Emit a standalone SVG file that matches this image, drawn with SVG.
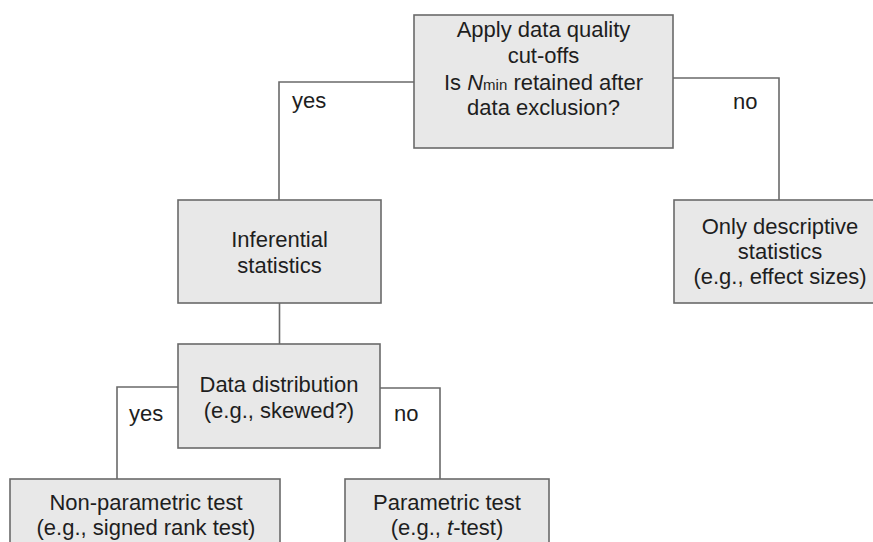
<svg xmlns="http://www.w3.org/2000/svg" width="873" height="542" viewBox="0 0 873 542">
<style>
.box{fill:#e8e8e8;stroke:#6a6a6a;stroke-width:1.6}
.t{font-family:"Liberation Sans",Arial,sans-serif;font-size:22px;fill:#1e1e1e;text-anchor:middle}
.l{font-family:"Liberation Sans",Arial,sans-serif;font-size:22px;fill:#1e1e1e}
.c{fill:none;stroke:#6a6a6a;stroke-width:1.6}
</style>
<rect width="873" height="542" fill="#ffffff"/>
<g id="connectors">
<polyline class="c" points="414,82 279,82 279,200"/>
<polyline class="c" points="673,78 779,78 779,200"/>
<line class="c" x1="279.5" y1="303" x2="279.5" y2="344"/>
<polyline class="c" points="178,387 117,387 117,479"/>
<polyline class="c" points="380,388 440,388 440,479"/>
<text class="l" x="292" y="108">yes</text>
<text class="l" x="733" y="109">no</text>
<text class="l" x="129" y="421">yes</text>
<text class="l" x="394" y="421">no</text>
</g>
<g id="n-cutoffs">
<rect class="box" x="414" y="15" width="259" height="133"/>
<text class="t" x="543.5" y="37">Apply data quality</text>
<text class="t" x="543.5" y="63">cut-offs</text>
<text class="t" x="543.5" y="90">Is <tspan font-style="italic">N</tspan><tspan font-size="15">min</tspan> retained after</text>
<text class="t" x="543.5" y="115">data exclusion?</text>
</g>
<g id="n-inferential">
<rect class="box" x="178" y="200" width="203" height="103"/>
<text class="t" x="279.5" y="247">Inferential</text>
<text class="t" x="279.5" y="273">statistics</text>
</g>
<g id="n-descriptive">
<rect class="box" x="674" y="200" width="212" height="103"/>
<text class="t" x="780" y="234">Only descriptive</text>
<text class="t" x="780" y="259">statistics</text>
<text class="t" x="780" y="284">(e.g., effect sizes)</text>
</g>
<g id="n-distribution">
<rect class="box" x="178" y="344" width="202" height="104"/>
<text class="t" x="279" y="392">Data distribution</text>
<text class="t" x="279" y="418">(e.g., skewed?)</text>
</g>
<g id="n-nonparametric">
<rect class="box" x="10" y="479" width="270" height="80"/>
<text class="t" x="146" y="510">Non-parametric test</text>
<text class="t" x="146" y="535">(e.g., signed rank test)</text>
</g>
<g id="n-parametric">
<rect class="box" x="345" y="479" width="204" height="80"/>
<text class="t" x="447" y="510">Parametric test</text>
<text class="t" x="447" y="535">(e.g., <tspan font-style="italic">t</tspan>-test)</text>
</g>
</svg>
